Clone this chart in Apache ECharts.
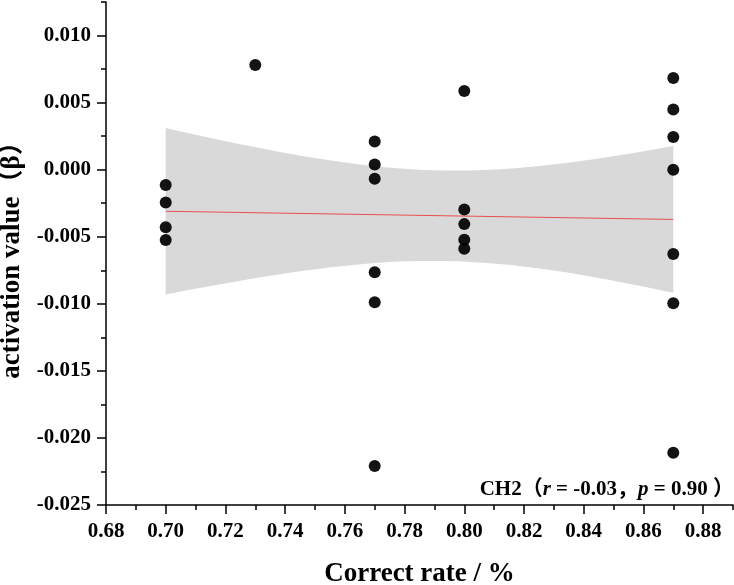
<!DOCTYPE html>
<html>
<head>
<meta charset="utf-8">
<script src="https://cdn.jsdelivr.net/npm/echarts@6.0.0/dist/echarts.min.js"></script>
<style>
html,body{margin:0;padding:0;background:#fff}
#main{width:734px;height:585px}
</style>
</head>
<body>
<div id="main"></div>
<script>
// 数据
var correctRate = [0.70, 0.70, 0.70, 0.70,
                   0.73,
                   0.77, 0.77, 0.77, 0.77, 0.77, 0.77,
                   0.80, 0.80, 0.80, 0.80, 0.80,
                   0.87, 0.87, 0.87, 0.87, 0.87, 0.87, 0.87];
var activation = [-0.00114, -0.00245, -0.0043, -0.00525,
                  0.0078,
                  0.0021, 0.00039, -0.00067, -0.00765, -0.00988, -0.0221,
                  0.00587, -0.00297, -0.00406, -0.00522, -0.00589,
                  0.00684, 0.00448, 0.00243, 0.0, -0.00629, -0.00996, -0.0211];

var xMajor = [0.68, 0.70, 0.72, 0.74, 0.76, 0.78, 0.80, 0.82, 0.84, 0.86, 0.88];
var xMinor = [0.69, 0.71, 0.73, 0.75, 0.77, 0.79, 0.81, 0.83, 0.85, 0.87, 0.89];
var yMajor = [-0.025, -0.020, -0.015, -0.010, -0.005, 0.000, 0.005, 0.010];
var yMinor = [-0.0225, -0.0175, -0.0125, -0.0075, -0.0025, 0.0025, 0.0075, 0.0125];

// 线性回归 + 95% 置信带
var n = correctRate.length;
var mx = 0, my = 0;
for (var i = 0; i < n; i++) { mx += correctRate[i]; my += activation[i]; }
mx /= n; my /= n;
var sxx = 0, sxy = 0;
for (var i = 0; i < n; i++) {
	sxx += (correctRate[i] - mx) * (correctRate[i] - mx);
	sxy += (correctRate[i] - mx) * (activation[i] - my);
}
var slope = sxy / sxx, icpt = my - slope * mx;
var sse = 0;
for (var i = 0; i < n; i++) {
	var r = activation[i] - (icpt + slope * correctRate[i]);
	sse += r * r;
}
var s = Math.sqrt(sse / (n - 2));
var tCrit = 2.0796; // t(0.975, 21)
var xLo = Math.min.apply(null, correctRate), xHi = Math.max.apply(null, correctRate);
var upper = [], lower = [];
for (var k = 0; k <= 40; k++) {
	var x = xLo + (xHi - xLo) * k / 40;
	var yh = icpt + slope * x;
	var h = tCrit * s * Math.sqrt(1 / n + (x - mx) * (x - mx) / sxx);
	upper.push([x, yh + h]);
	lower.push([x, yh - h]);
}

var labelFont = { color: '#000', fontFamily: 'Liberation Serif', fontWeight: 'bold', fontSize: 21 };
var nameFont = { color: '#000', fontFamily: 'Liberation Serif, Noto Sans CJK SC', fontWeight: 'bold', fontSize: 27 };
var lineStyle = { color: '#000', width: 1.5 };

var myChart = echarts.init(document.getElementById('main'));
var option = {
	animation: false,
	backgroundColor: '#fff',
	grid: { left: 106, right: 1, top: 2, bottom: 80, outerBoundsMode: 'none' },
	xAxis: [{
		type: 'value', min: 0.68, max: 0.89, interval: 0.02,
		axisLine: { show: true, onZero: false, lineStyle: lineStyle },
		axisTick: { show: true, length: 9, lineStyle: lineStyle, customValues: xMajor },
		axisLabel: Object.assign({ margin: 16, customValues: xMajor, formatter: function (v) { return v.toFixed(2); } }, labelFont),
		splitLine: { show: false },
		name: 'Correct rate / %', nameLocation: 'middle', nameGap: 56, nameTextStyle: nameFont
	}, {
		type: 'value', min: 0.68, max: 0.89, position: 'bottom',
		axisLine: { show: false, onZero: false },
		axisTick: { show: true, length: 5, lineStyle: lineStyle, customValues: xMinor },
		axisLabel: { show: false },
		splitLine: { show: false }
	}],
	yAxis: [{
		type: 'value', min: -0.025, max: 0.0125, interval: 0.005,
		axisLine: { show: true, onZero: false, lineStyle: lineStyle },
		axisTick: { show: true, length: 9, lineStyle: lineStyle, customValues: yMajor },
		axisLabel: Object.assign({ margin: 15, customValues: yMajor, formatter: function (v) { return v.toFixed(3); } }, labelFont),
		splitLine: { show: false },
		name: 'activation value（β）', nameLocation: 'middle', nameGap: 72, nameTextStyle: nameFont
	}, {
		type: 'value', min: -0.025, max: 0.0125, position: 'left',
		axisLine: { show: false, onZero: false },
		axisTick: { show: true, length: 5, lineStyle: lineStyle, customValues: yMinor },
		axisLabel: { show: false },
		splitLine: { show: false }
	}],
	series: [{
		type: 'custom',
		silent: true,
		z: 1,
		data: [[xLo, 0]],
		renderItem: function (params, api) {
			var pts = [];
			for (var k = 0; k < upper.length; k++) pts.push(api.coord(upper[k]));
			for (var k = lower.length - 1; k >= 0; k--) pts.push(api.coord(lower[k]));
			return { type: 'polygon', shape: { points: pts }, style: { fill: '#d9d9d9' } };
		}
	}, {
		type: 'line',
		z: 2,
		symbol: 'none',
		silent: true,
		lineStyle: { color: '#e8504f', width: 1 },
		data: [[xLo, icpt + slope * xLo], [xHi, icpt + slope * xHi]]
	}, {
		type: 'scatter',
		z: 3,
		symbolSize: 12,
		itemStyle: { color: '#000', opacity: 0.92 },
		data: correctRate.map(function (x, i) { return [x, activation[i]]; })
	}],
	graphic: [{
		type: 'text',
		right: 0,
		top: 479,
		style: {
			text: 'CH2（{i|r} = -0.03，{i|p} = 0.90 ）',
			fontFamily: 'Liberation Serif, Noto Sans CJK SC',
			fontWeight: 'bold',
			fontSize: 21,
			fill: '#000',
			rich: {
				i: { fontFamily: 'Liberation Serif', fontStyle: 'italic', fontWeight: 'bold', fontSize: 21, fill: '#000' }
			}
		}
	}]
};
myChart.setOption(option);
window.addEventListener('resize', function () {
	myChart.resize();
});
</script>
</body>
</html>
